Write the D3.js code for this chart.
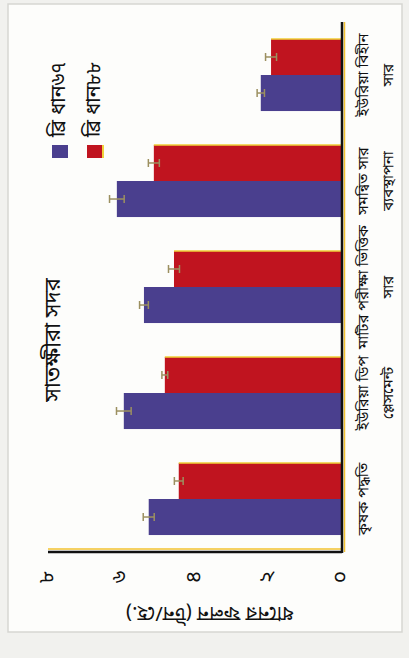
<html>
<head>
<meta charset="utf-8">
<title>satkhira sadar yield</title>
<script src="https://cdn.jsdelivr.net/npm/d3@7"></script>
<style>
body { margin: 0; background: #f1f1ee; }
svg { display: block; }
text { font-family: 'Noto Sans Bengali', 'Noto Serif Bengali', 'Lohit Bengali', 'Noto Sans', sans-serif; fill: #111; }
</style>
</head>
<body>
<svg id="chart" width="409" height="658"></svg>
<script>
// data
var categories = ["কৃষক পদ্ধতি", "ইউরিয়া ডিপ প্লেসমেন্ট", "মাটির পরীক্ষা ভিত্তিক সার", "সমন্বিত সার ব্যবস্থাপনা", "ইউরিয়া বিহীন সার"];
var catLines = [["কৃষক পদ্ধতি"], ["ইউরিয়া ডিপ", "প্লেসমেন্ট"], ["মাটির পরীক্ষা ভিত্তিক", "সার"], ["সমন্বিত সার", "ব্যবস্থাপনা"], ["ইউরিয়া বিহীন", "সার"]];
var seriesNames = ["ব্রি ধান৬৭", "ব্রি ধান৮৮"];
var dhan67 = [5.25, 5.93, 5.38, 6.12, 2.19];
var dhan88 = [4.43, 4.81, 4.56, 5.11, 1.91];
var err67 = [0.15, 0.2, 0.12, 0.2, 0.1];
var err88 = [0.12, 0.08, 0.15, 0.15, 0.15];
var yTicks = [0, 2, 4, 6, 8];
var tickLabels = ["০", "২", "৪", "৬", "৮"];
var title = "সাতক্ষীরা সদর";
var yTitle = "ধানের ফলন (টন/হে.)";

var colors = ["#4a3f8e", "#c0141f"];

var svg = d3.select("#chart");

// scanned page frame
svg.append("rect")
.attr("x", 8).attr("y", 4).attr("width", 394).attr("height", 628)
.style("fill", "#fdfdfb")
.style("stroke", "#d6d6d2")
.style("stroke-width", 1.5);

// the chart was photographed turned 90 degrees, so draw it upright and rotate it
var W = 658;
var g = svg.append("g").attr("transform", "translate(0," + W + ") rotate(-90)");

var x = d3.scaleBand().domain(categories).range([106, 636]).paddingInner(0.32).paddingOuter(0.16);
var xSub = d3.scaleBand().domain([0, 1]).range([0, x.bandwidth()]);
var y = d3.scaleLinear().domain([0, 8]).range([341, 48]);

var series = [dhan67, dhan88];
var errs = [err67, err88];

series.forEach(function (vals, s) {
	categories.forEach(function (c, i) {
		var bx = x(c) + xSub(s);
		g.append("rect")
		.attr("x", bx)
		.attr("y", y(vals[i]))
		.attr("width", xSub.bandwidth())
		.attr("height", y(0) - y(vals[i]))
		.style("fill", colors[s]);
		if (s == 1) {
			g.append("line")
			.attr("x1", bx + xSub.bandwidth()).attr("x2", bx + xSub.bandwidth())
			.attr("y1", y(vals[i])).attr("y2", y(0))
			.style("stroke", "#f0d23a").style("stroke-width", 1.5);
		}
		// error bar
		var cx = bx + xSub.bandwidth() / 2;
		var col = "#9c9060";
		g.append("line")
		.attr("x1", cx).attr("x2", cx)
		.attr("y1", y(vals[i] - errs[s][i])).attr("y2", y(vals[i] + errs[s][i]))
		.style("stroke", col).style("stroke-width", 1.5);
		[vals[i] - errs[s][i], vals[i] + errs[s][i]].forEach(function (v) {
			g.append("line")
			.attr("x1", cx - 4).attr("x2", cx + 4)
			.attr("y1", y(v)).attr("y2", y(v))
			.style("stroke", col).style("stroke-width", 1.5);
		});
	});
});

// axes with the yellow shadow
g.append("line")
.attr("x1", 109).attr("x2", 109).attr("y1", 48).attr("y2", 342)
.style("stroke", "#f2c230").style("stroke-width", 1.5);
g.append("line")
.attr("x1", 106).attr("x2", 636).attr("y1", 344.5).attr("y2", 344.5)
.style("stroke", "#f2c230").style("stroke-width", 1.5);
g.append("line")
.attr("x1", 106).attr("x2", 106).attr("y1", 48).attr("y2", 342)
.style("stroke", "#111").style("stroke-width", 2.5);
g.append("line")
.attr("x1", 105).attr("x2", 636).attr("y1", 342).attr("y2", 342)
.style("stroke", "#111").style("stroke-width", 2.5);

// value ticks
yTicks.forEach(function (t, i) {
	g.append("text")
	.text(tickLabels[i])
	.attr("x", 81)
	.attr("y", y(t))
	.attr("text-anchor", "middle")
	.attr("dominant-baseline", "central")
	.attr("font-size", 21);
});

g.append("text")
.text(yTitle)
.attr("transform", "translate(46,210) rotate(-90)")
.attr("text-anchor", "middle")
.attr("dominant-baseline", "central")
.attr("font-size", 20);

// category labels
categories.forEach(function (c, i) {
	catLines[i].forEach(function (line, j) {
		g.append("text")
		.text(line)
		.attr("x", x(c) + x.bandwidth() / 2)
		.attr("y", 368 + j * 25)
		.attr("text-anchor", "middle")
		.attr("font-size", 15);
	});
});

// title
g.append("text")
.text(title)
.attr("x", 318)
.attr("y", 54)
.attr("text-anchor", "middle")
.attr("dominant-baseline", "central")
.attr("font-size", 22);

// legend
seriesNames.forEach(function (name, s) {
	var ly = 52 + s * 35;
	g.append("rect")
	.attr("x", 500).attr("y", ly)
	.attr("width", 13).attr("height", 16)
	.style("fill", colors[s]);
	if (s == 1) {
		g.append("line")
		.attr("x1", 500).attr("x2", 513).attr("y1", ly + 16).attr("y2", ly + 16)
		.style("stroke", "#f0d23a").style("stroke-width", 2);
	}
	g.append("text")
	.text(name)
	.attr("x", 521)
	.attr("y", ly + 8)
	.attr("dominant-baseline", "central")
	.attr("font-size", 20);
});
</script>
</body>
</html>
